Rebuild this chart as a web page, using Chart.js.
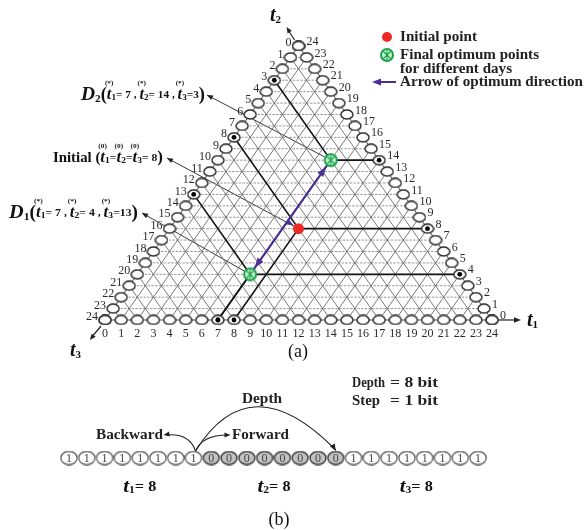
<!DOCTYPE html>
<html>
<head>
<meta charset="utf-8">
<script src="https://cdn.jsdelivr.net/npm/chart.js@4.4.1/dist/chart.umd.min.js"></script>
<style>
  html, body { margin: 0; padding: 0; background: #fff; }
  #wrap { position: relative; width: 584px; height: 530px; }
  #tri { position: absolute; left: 0; top: 0; }
  #bits { position: absolute; left: 0; top: 365px; }
</style>
</head>
<body>
<div id="wrap">
  <canvas id="tri" width="584" height="365"></canvas>
  <canvas id="bits" width="584" height="165"></canvas>
</div>
<script>
// ---- data ----
const GRID_MAX = 24;
const tickLabels = ['0','1','2','3','4','5','6','7','8','9','10','11','12','13','14','15','16','17','18','19','20','21','22','23','24'];
// [t1, t2, t3]
const initialPoint = [8, 8, 8];
const optimumDay1 = [7, 4, 13];
const optimumDay2 = [7, 14, 3];
// chromosome of part (b)
const bitString = [1,1,1,1,1,1,1,1, 0,0,0,0,0,0,0,0, 1,1,1,1,1,1,1,1];
const bitGroups = ['1', '2', '3'];
const bitGroupValues = [8, 8, 8];
const depthBits = 8;
const stepBits = 1;

const FONT = '"Liberation Serif", "DejaVu Serif", serif';

// ternary (t1, t2) -> plane coordinates
function tern(t1, t2) {
  return { x: t1 + t2 / 2, y: t2 };
}

function ellipseImg(w, h, fill, stroke, lw) {
  const c = document.createElement('canvas');
  c.width = w; c.height = h;
  const g = c.getContext('2d');
  g.beginPath();
  g.ellipse(w / 2, h / 2, w / 2 - lw / 2 - 0.3, h / 2 - lw / 2 - 0.3, 0, 0, Math.PI * 2);
  g.fillStyle = fill; g.fill();
  g.lineWidth = lw; g.strokeStyle = stroke; g.stroke();
  return c;
}

function optimumImg() {
  const c = document.createElement('canvas');
  c.width = 16; c.height = 16;
  const g = c.getContext('2d');
  g.beginPath(); g.arc(8, 8, 6, 0, Math.PI * 2);
  g.fillStyle = '#c6f0d0'; g.fill();
  g.lineWidth = 2; g.strokeStyle = '#1aa24a'; g.stroke();
  g.beginPath();
  g.moveTo(4.5, 4.5); g.lineTo(11.5, 11.5);
  g.moveTo(11.5, 4.5); g.lineTo(4.5, 11.5);
  g.moveTo(8, 3); g.lineTo(8, 13);
  g.lineWidth = 1.1; g.strokeStyle = '#1aa24a'; g.stroke();
  return c;
}

function head(ctx, fx, fy, tx, ty, len, hw, color) {
  const a = Math.atan2(ty - fy, tx - fx);
  const c = Math.cos(a), s = Math.sin(a);
  ctx.save();
  ctx.fillStyle = color;
  ctx.beginPath();
  ctx.moveTo(tx, ty);
  ctx.lineTo(tx - len * c + hw * s, ty - len * s - hw * c);
  ctx.lineTo(tx - len * c - hw * s, ty - len * s + hw * c);
  ctx.closePath();
  ctx.fill();
  ctx.restore();
}

// runs: {t, f, dy, over}; over = centred above the previous run, no advance
function rich(ctx, x, y, runs, width, color) {
  let w = 0;
  runs.forEach(r => {
    ctx.font = r.f;
    r.w = r.over ? 0 : ctx.measureText(r.t).width;
    w += r.w;
  });
  const sx = width ? width / w : 1;
  ctx.save();
  ctx.translate(x, y);
  ctx.scale(sx, 1);
  ctx.fillStyle = color || '#111';
  ctx.textBaseline = 'middle';
  let cx = 0, prev = null;
  runs.forEach(r => {
    ctx.font = r.f;
    if (r.over && prev) {
      ctx.textAlign = 'center';
      ctx.fillText(r.t, cx - prev.w / 2, r.dy || 0);
    } else {
      ctx.textAlign = 'left';
      ctx.fillText(r.t, cx, r.dy || 0);
      cx += r.w;
      prev = r;
    }
  });
  ctx.restore();
}

const B = (px) => `bold ${px}px ${FONT}`;
const BI = (px) => `bold italic ${px}px ${FONT}`;

function tRuns(sub, mark, rest, tSize) {
  return [
    { t: 't', f: BI(tSize || 16) },
    { t: mark, f: B(7), dy: -12, over: true },
    { t: sub, f: B(9), dy: 3 },
    { t: rest, f: B(11) }
  ];
}

function dayLabel(name, p) {
  return [
    { t: 'D', f: BI(19) },
    { t: name, f: B(11), dy: 4 },
    { t: '(', f: B(18) },
    ...tRuns('1', '(*)', '= ' + p[0] + ' , '),
    ...tRuns('2', '(*)', '= ' + p[1] + ' , '),
    ...tRuns('3', '(*)', '=' + p[2]),
    { t: ')', f: B(18) }
  ];
}

// ---- datasets for (a) ----
const lineDs = (pts, color, width, dash, order) => ({
  data: pts, showLine: true, borderColor: color, borderWidth: width,
  borderDash: dash || [], pointRadius: 0, pointHoverRadius: 0,
  fill: false, tension: 0, order: order
});

const triSets = [];
for (let k = 1; k < GRID_MAX; k++) {
  triSets.push(lineDs([tern(0, k), tern(GRID_MAX - k, k)], '#8c8c8c', 0.9, [2.5, 1.2], 20));
  triSets.push(lineDs([tern(k, 0), tern(k, GRID_MAX - k)], '#6c6c6c', 0.9, [], 19));
  triSets.push(lineDs([tern(GRID_MAX - k, 0), tern(0, GRID_MAX - k)], '#6c6c6c', 0.9, [], 19));
}
triSets.push(lineDs([tern(0, 0), tern(GRID_MAX, 0), tern(0, GRID_MAX), tern(0, 0)], '#444', 1, [], 18));

const edgeBottom = tickLabels.map((l, i) => tern(i, 0));
const edgeLeft = tickLabels.map((l, i) => tern(0, GRID_MAX - i));   // t3 = i
const edgeRight = tickLabels.map((l, i) => tern(GRID_MAX - i, i));  // t2 = i

const guideDots = [];
[initialPoint, optimumDay1, optimumDay2].forEach(p => {
  const [t1, t2, t3] = p;
  triSets.push(lineDs([tern(0, t1 + t2), tern(t1, t2)], '#151515', 1.6, [], 10));
  triSets.push(lineDs([tern(t1, t2), tern(t1 + t3, t2)], '#151515', 1.6, [], 10));
  triSets.push(lineDs([tern(t1, t2), tern(t1, 0)], '#151515', 1.6, [], 10));
  guideDots.push(tern(0, t1 + t2), tern(t1 + t3, t2), tern(t1, 0));
});
// optimum direction
triSets.push(lineDs([tern(optimumDay1[0], optimumDay1[1]), tern(optimumDay2[0], optimumDay2[1])], '#4a2f96', 2, [], 8));

const edgeImg = ellipseImg(14, 11, '#fff', '#2a2a2a', 1.4);
[edgeBottom, edgeLeft, edgeRight].forEach(pts => {
  triSets.push({ data: pts, pointStyle: edgeImg, pointRadius: 6, showLine: false, order: 6 });
});
triSets.push({ data: guideDots, pointStyle: 'circle', pointRadius: 2.4, backgroundColor: '#000', borderWidth: 0, order: 5 });
const greenImg = optimumImg();
triSets.push({ data: [tern(optimumDay1[0], optimumDay1[1]), tern(optimumDay2[0], optimumDay2[1])], pointStyle: greenImg, pointRadius: 7, order: 3 });
triSets.push({ data: [tern(initialPoint[0], initialPoint[1])], pointStyle: 'circle', pointRadius: 5.5, backgroundColor: '#ec2b24', borderWidth: 0, order: 2 });

const triDecor = {
  id: 'triDecor',
  beforeDatasetsDraw(chart) {
    const { ctx, scales: { x, y } } = chart;
    const P = (t1, t2) => [x.getPixelForValue(t1 + t2 / 2), y.getPixelForValue(t2)];
    ctx.save();
    ctx.strokeStyle = '#222';
    ctx.lineWidth = 0.9;
    // leader lines
    const leaders = [
      [207, 95, P(optimumDay2[0], optimumDay2[1])],
      [167, 158, P(initialPoint[0], initialPoint[1])],
      [142, 213, P(optimumDay1[0], optimumDay1[1])]
    ];
    leaders.forEach(([lx, ly, p]) => {
      ctx.beginPath(); ctx.moveTo(lx, ly); ctx.lineTo(p[0], p[1]); ctx.stroke();
      head(ctx, p[0], p[1], lx, ly, 6, 2.5, '#222');
    });
    // axis arrows
    ctx.lineWidth = 1.2;
    const r = P(GRID_MAX, 0), t = P(0, GRID_MAX), l = P(0, 0);
    ctx.beginPath(); ctx.moveTo(r[0] + 7, r[1]); ctx.lineTo(r[0] + 26, r[1]); ctx.stroke();
    head(ctx, r[0], r[1], r[0] + 29, r[1], 7, 2.8, '#222');
    ctx.beginPath(); ctx.moveTo(t[0] - 4, t[1] - 6); ctx.lineTo(t[0] - 11, t[1] - 17); ctx.stroke();
    head(ctx, t[0], t[1], t[0] - 12, t[1] - 19, 6, 2.5, '#222');
    ctx.beginPath(); ctx.moveTo(l[0] - 4, l[1] + 6); ctx.lineTo(l[0] - 14, l[1] + 18); ctx.stroke();
    head(ctx, l[0], l[1], l[0] - 15, l[1] + 20, 6, 2.5, '#222');
    ctx.restore();
  },
  afterDatasetsDraw(chart) {
    const { ctx, scales: { x, y } } = chart;
    const P = (t1, t2) => [x.getPixelForValue(t1 + t2 / 2), y.getPixelForValue(t2)];
    ctx.save();
    // arrow heads on optimum direction
    const a = P(optimumDay1[0], optimumDay1[1]), b = P(optimumDay2[0], optimumDay2[1]);
    const d = Math.hypot(b[0] - a[0], b[1] - a[1]);
    const ux = (b[0] - a[0]) / d, uy = (b[1] - a[1]) / d;
    head(ctx, a[0], a[1], b[0] - ux * 8, b[1] - uy * 8, 10, 3.5, '#4a2f96');
    head(ctx, b[0], b[1], a[0] + ux * 8, a[1] + uy * 8, 10, 3.5, '#4a2f96');
    const ip = P(initialPoint[0], initialPoint[1]);
    head(ctx, 167, 158, ip[0] - 5, ip[1] - 3.5, 8, 3.2, '#4a2f96');

    // edge numbers
    ctx.fillStyle = '#2a2a2a';
    ctx.font = `12px ${FONT}`;
    ctx.textBaseline = 'middle';
    tickLabels.forEach((lab, i) => {
      let p = P(i, 0);
      ctx.textAlign = 'center';
      ctx.fillText(lab, p[0], p[1] + 14);
      p = P(0, GRID_MAX - i);
      ctx.textAlign = 'right';
      ctx.fillText(lab, p[0] - 7, p[1] - 3);
      p = P(GRID_MAX - i, i);
      ctx.textAlign = 'left';
      ctx.fillText(lab, p[0] + 8, p[1] - 4);
    });

    // axis names
    rich(ctx, 527, 321, [{ t: 't', f: BI(20) }, { t: '1', f: B(11), dy: 4 }]);
    rich(ctx, 270, 16, [{ t: 't', f: BI(20) }, { t: '2', f: B(11), dy: 4 }]);
    rich(ctx, 70, 351, [{ t: 't', f: BI(20) }, { t: '3', f: B(11), dy: 4 }]);

    // annotation labels
    rich(ctx, 81, 95, dayLabel('2', optimumDay2), 124);
    rich(ctx, 53, 158, [
      { t: 'Initial (', f: B(14) },
      ...tRuns('1', '(0)', '='), ...tRuns('2', '(0)', '='), ...tRuns('3', '(0)', '= ' + initialPoint[2]),
      { t: ')', f: B(16) }
    ], 110);
    rich(ctx, 9, 213, dayLabel('1', optimumDay1), 129);

    // legend
    ctx.fillStyle = '#ec2b24';
    ctx.beginPath(); ctx.arc(387, 37, 5, 0, Math.PI * 2); ctx.fill();
    ctx.drawImage(greenImg, 379, 47);
    ctx.strokeStyle = '#4a2f96'; ctx.lineWidth = 2;
    ctx.beginPath(); ctx.moveTo(396, 82); ctx.lineTo(378, 82); ctx.stroke();
    head(ctx, 396, 82, 372, 82, 9, 3.5, '#4a2f96');
    rich(ctx, 400, 37, [{ t: 'Initial point', f: B(14) }], 77, '#222');
    rich(ctx, 400, 55, [{ t: 'Final optimum points', f: B(14) }], 139, '#222');
    rich(ctx, 400, 69, [{ t: 'for different days', f: B(14) }], 112, '#222');
    rich(ctx, 400, 82, [{ t: 'Arrow of optimum direction', f: B(14) }], 183, '#222');

    ctx.fillStyle = '#111';
    ctx.font = `18px ${FONT}`;
    ctx.textAlign = 'center';
    ctx.fillText('(a)', 298, 352);
    ctx.restore();
  }
};

new Chart(document.getElementById('tri'), {
  type: 'scatter',
  data: { datasets: triSets },
  options: {
    responsive: false, animation: false, events: [],
    layout: { padding: 0, autoPadding: false },
    plugins: { legend: { display: false }, tooltip: { enabled: false } },
    scales: {
      x: { type: 'linear', min: -6.512, max: 29.705, display: false },
      y: { type: 'linear', min: -3.942, max: 28.029, display: false }
    }
  },
  plugins: [triDecor]
});

// ---- (b) chromosome ----
const oneImg = ellipseImg(18, 15, '#fff', '#444', 1.1);
const zeroImg = ellipseImg(18, 15, '#c2c2c2', '#3a3a3a', 1.4);

const bitsDecor = {
  id: 'bitsDecor',
  afterDatasetsDraw(chart) {
    const { ctx } = chart;
    const pts = chart.getDatasetMeta(0).data;
    ctx.save();
    ctx.textAlign = 'center';
    ctx.textBaseline = 'middle';
    ctx.font = `12px ${FONT}`;
    ctx.fillStyle = '#444';
    pts.forEach((p, i) => ctx.fillText(String(bitString[i]), p.x, p.y + 0.5));

    // arcs from the last bit of t1
    const s = pts[depthBits - 1], e = pts[2 * depthBits - 1];
    const sx = s.x + 2, sy = s.y - 7;
    ctx.strokeStyle = '#222'; ctx.lineWidth = 1.1;
    ctx.beginPath(); ctx.moveTo(sx, sy); ctx.quadraticCurveTo(sx - 6, sy - 18, sx - 29, sy - 16); ctx.stroke();
    head(ctx, sx - 20, sy - 18, sx - 32, sy - 16, 6, 2.5, '#222');
    ctx.beginPath(); ctx.moveTo(sx, sy); ctx.quadraticCurveTo(sx + 7, sy - 16, sx + 32, sy - 16); ctx.stroke();
    head(ctx, sx + 24, sy - 16, sx + 35, sy - 16, 6, 2.5, '#222');
    ctx.beginPath(); ctx.moveTo(sx, sy); ctx.quadraticCurveTo(sx + 55, sy - 88, e.x, e.y - 8); ctx.stroke();
    head(ctx, e.x - 6, e.y - 18, e.x, e.y - 7, 7, 2.8, '#222');

    rich(ctx, 96, 70, [{ t: 'Backward', f: B(14) }], 67, '#222');
    rich(ctx, 232, 70, [{ t: 'Forward', f: B(14) }], 57, '#222');
    rich(ctx, 242, 34, [{ t: 'Depth', f: B(14) }], 40, '#222');
    rich(ctx, 352, 18, [{ t: 'Depth', f: B(14) }], 33, '#222');
    rich(ctx, 390, 18, [{ t: '= ' + depthBits + ' bit', f: B(14) }], 48, '#222');
    rich(ctx, 352, 36, [{ t: 'Step', f: B(14) }], 28, '#222');
    rich(ctx, 390, 36, [{ t: '= ' + stepBits + ' bit', f: B(14) }], 48, '#222');

    // group labels
    bitGroups.forEach((g, k) => {
      const a = pts[k * depthBits], b = pts[(k + 1) * depthBits - 1];
      const cx = (a.x + b.x) / 2 + (k === 0 ? 8 : 0);
      rich(ctx, cx - 16, 122, [{ t: 't', f: BI(18) }, { t: g, f: B(10), dy: 3 }, { t: '= ' + bitGroupValues[k], f: B(14) }], 33, '#111');
    });

    ctx.fillStyle = '#111';
    ctx.font = `18px ${FONT}`;
    ctx.textAlign = 'center';
    ctx.fillText('(b)', 279, 155);
    ctx.restore();
  }
};

new Chart(document.getElementById('bits'), {
  type: 'scatter',
  data: {
    datasets: [{
      data: bitString.map((b, i) => ({ x: i, y: 0 })),
      pointStyle: bitString.map(b => (b ? oneImg : zeroImg)),
      pointRadius: 8
    }]
  },
  options: {
    responsive: false, animation: false, events: [],
    layout: { padding: 0, autoPadding: false },
    plugins: { legend: { display: false }, tooltip: { enabled: false } },
    scales: {
      x: { type: 'linear', min: -3.88, max: 28.96, display: false },
      y: { type: 'linear', min: -1.44, max: 1.86, display: false }
    }
  },
  plugins: [bitsDecor]
});
</script>
</body>
</html>
